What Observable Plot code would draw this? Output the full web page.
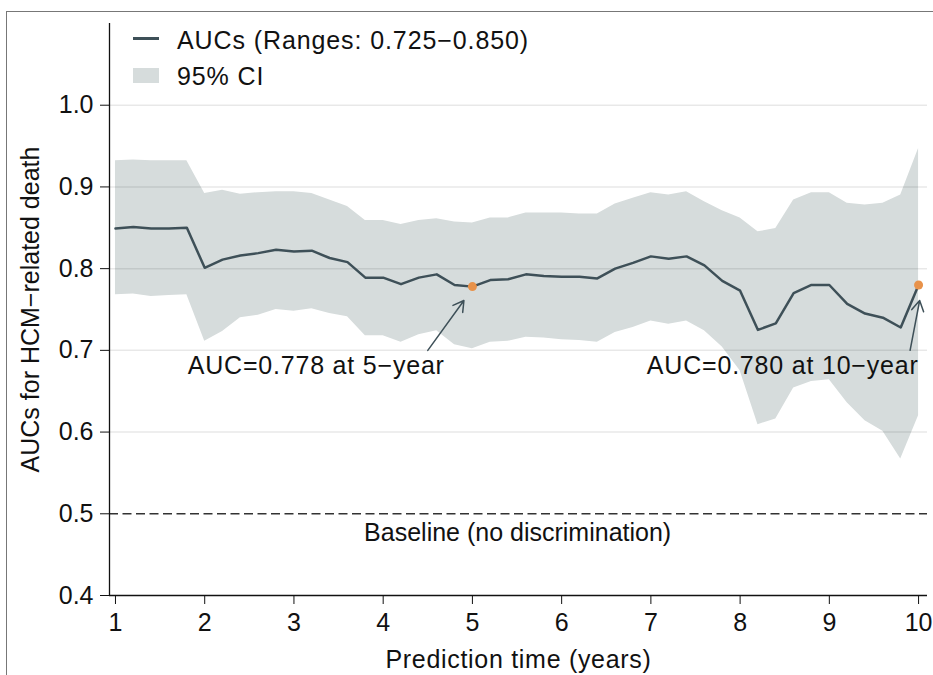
<!DOCTYPE html>
<html>
<head>
<meta charset="utf-8">
<script src="https://cdn.jsdelivr.net/npm/d3@7"></script>
<script src="https://cdn.jsdelivr.net/npm/@observablehq/plot@0.6"></script>
<style>
  html, body { margin: 0; padding: 0; background: #fff; overflow: hidden; }
  #wrap { position: relative; width: 933px; height: 675px; font-family: "Liberation Sans", Arial, sans-serif; }
  #frame { position: absolute; left: 6px; top: 11px; width: 1200px; height: 1200px; border: 1.5px solid #777; pointer-events: none; }
  .leg { position: absolute; font-size: 25px; line-height: 25px; letter-spacing: 0.9px; color: #111; white-space: nowrap; }
  .sw { position: absolute; }
</style>
</head>
<body>
<div id="wrap">
  <div id="chart"></div>
  <div id="frame"></div>
  <div class="sw" style="left:133px; top:37px; width:26px; height:3px; background:#3e5058;"></div>
  <div class="leg" id="leg1" style="left:177px; top:28px;"></div>
  <div class="sw" style="left:133px; top:68px; width:26px; height:15px; background:#d6dcdc;"></div>
  <div class="leg" id="leg2" style="left:177px; top:64px;"></div>
</div>
<script>
// ---- data ----
const years = [1.0,1.2,1.4,1.6,1.8,2.0,2.2,2.4,2.6,2.8,3.0,3.2,3.4,3.6,3.8,4.0,4.2,4.4,4.6,4.8,5.0,5.2,5.4,5.6,5.8,6.0,6.2,6.4,6.6,6.8,7.0,7.2,7.4,7.6,7.8,8.0,8.2,8.4,8.6,8.8,9.0,9.2,9.4,9.6,9.8,10.0];
const auc = [0.849,0.851,0.849,0.849,0.850,0.801,0.811,0.816,0.819,0.823,0.821,0.822,0.813,0.808,0.789,0.789,0.781,0.789,0.793,0.780,0.778,0.786,0.787,0.793,0.791,0.790,0.790,0.788,0.800,0.807,0.815,0.812,0.815,0.804,0.785,0.773,0.725,0.733,0.770,0.780,0.780,0.757,0.745,0.740,0.728,0.780];
const ciHigh = [0.932,0.933,0.932,0.932,0.932,0.892,0.896,0.891,0.893,0.894,0.894,0.892,0.884,0.876,0.859,0.859,0.854,0.859,0.861,0.857,0.856,0.862,0.862,0.868,0.868,0.868,0.867,0.867,0.879,0.886,0.893,0.890,0.894,0.882,0.871,0.862,0.845,0.849,0.884,0.893,0.893,0.880,0.878,0.880,0.890,0.947];
const ciLow = [0.768,0.769,0.766,0.767,0.768,0.711,0.723,0.740,0.743,0.750,0.748,0.751,0.745,0.741,0.718,0.718,0.710,0.719,0.724,0.707,0.702,0.710,0.711,0.716,0.715,0.713,0.712,0.710,0.722,0.728,0.736,0.732,0.736,0.724,0.704,0.675,0.609,0.616,0.654,0.662,0.664,0.636,0.614,0.601,0.567,0.620];
const xTicks = [1,2,3,4,5,6,7,8,9,10];
const yTicks = [0.4,0.5,0.6,0.7,0.8,0.9,1.0];
const gridValues = [0.6,0.7,0.8,0.9,1.0];
const baselineValue = [0.5];
const xDomain = [0.933, 10.1];
const yDomain = [0.4, 1.1];
const highlights = [
  {year: 5, auc: 0.778, label: "AUC=0.778 at 5\u2212year", lx: 4.69, ly: 0.681, ax1: 4.50, ay1: 0.700, ax2: 4.905, ay2: 0.761},
  {year: 10, auc: 0.780, label: "AUC=0.780 at 10\u2212year", lx: 10.0, ly: 0.681, ax1: 9.905, ay1: 0.700, ax2: 10.012, ay2: 0.761}
];
const baselineLabel = [{x: 5.507, y: 0.476, text: "Baseline (no discrimination)"}];
const legendLabels = ["AUCs (Ranges: 0.725\u22120.850)", "95% CI"];

const rows = years.map((y, i) => ({year: y, auc: auc[i], lo: ciLow[i], hi: ciHigh[i]}));

const lineColor = "#3e5058";
const bandColor = "#d6dcdc";

const chart = Plot.plot({
  width: 933,
  height: 675,
  marginLeft: 109,
  marginRight: 6,
  marginTop: 23,
  marginBottom: 80,
  style: {fontFamily: "'Liberation Sans', Arial, sans-serif", fontSize: "25px", color: "#111", background: "transparent"},
  x: {domain: xDomain, ticks: xTicks, tickSize: 9, tickPadding: 9, tickFormat: d => String(d),
      label: "Prediction time (years)", labelAnchor: "center", labelOffset: 72, labelArrow: false},
  y: {domain: yDomain, ticks: yTicks, tickSize: 9, tickPadding: 7, tickFormat: d3.format(".1f"),
      label: "AUCs for HCM\u2212related death", labelAnchor: "center", labelOffset: 88, labelArrow: false},
  marks: [
    Plot.areaY(rows, {x: "year", y1: "lo", y2: "hi", fill: bandColor}),
    Plot.ruleY(gridValues, {stroke: "#000", strokeOpacity: 0.09, strokeWidth: 1.5}),
    Plot.ruleY(baselineValue, {stroke: "#333", strokeWidth: 1.5, strokeDasharray: "9,4.5"}),
    Plot.line(rows, {x: "year", y: "auc", stroke: lineColor, strokeWidth: 2.5}),
    Plot.dot(highlights, {x: "year", y: "auc", r: 4.5, fill: "#e8924a", stroke: "none"}),
    Plot.arrow(highlights, {x1: "ax1", y1: "ay1", x2: "ax2", y2: "ay2", stroke: lineColor, strokeWidth: 1.5, headLength: 12, bend: 0}),
    Plot.text(highlights, {x: "lx", y: "ly", text: "label", textAnchor: "end", lineAnchor: "middle", fill: "#111"}),
    Plot.text(baselineLabel, {x: "x", y: "y", text: "text", textAnchor: "middle", lineAnchor: "middle", fill: "#111"}),
    Plot.ruleY([yDomain[0]], {stroke: "#111", strokeWidth: 1.3}),
    Plot.ruleX([xDomain[0]], {stroke: "#111", strokeWidth: 1.3})
  ]
});
document.getElementById("chart").appendChild(chart);
// slightly wider text spacing to match the reference rendering
const textGroups = chart.querySelectorAll('g[aria-label="text"]');
if (textGroups[0]) textGroups[0].style.letterSpacing = "0.8px";
chart.querySelectorAll('g[aria-label="x-axis label"] text').forEach(t => t.style.letterSpacing = "0.7px");
document.getElementById("leg1").textContent = legendLabels[0];
document.getElementById("leg2").textContent = legendLabels[1];
</script>
</body>
</html>
